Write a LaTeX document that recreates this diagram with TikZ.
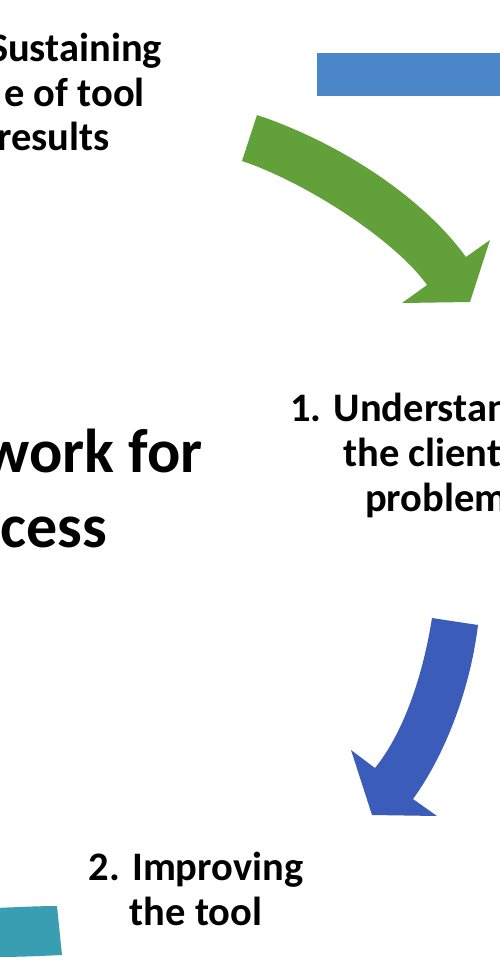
\documentclass[tikz,border=0pt]{standalone}
\usepackage{fontspec}
\setmainfont{Carlito}
\definecolor{greenA}{RGB}{98,161,58}
\definecolor{blueR}{RGB}{74,134,200}
\definecolor{blueA}{RGB}{59,92,184}
\definecolor{tealA}{RGB}{58,158,179}
\begin{document}
\begin{tikzpicture}[x=1pt,y=-1pt,
  lbl/.style={font=\bfseries\fontsize{40.5}{45}\selectfont, inner sep=0pt},
  big/.style={font=\bfseries\fontsize{62}{75}\selectfont, inner sep=0pt}]
\useasboundingbox (0,0) rectangle (500,977);
\clip (0,0) rectangle (500,977);
% shapes
\fill[blueR] (317,53) rectangle (505,96);
\fill[greenA] (257,115) .. controls (335,141) and (420,194) .. (466,257)
  -- (490,240) -- (470,302) -- (402,303) -- (427,285)
  .. controls (395,240) and (305,182) .. (242,161) -- cycle;
\fill[blueA] (432,618) .. controls (423,675) and (404,732) .. (375,768)
  -- (351,750) -- (372,815) -- (437,816) -- (413,799)
  .. controls (445,755) and (470,690) .. (478,625) -- cycle;
\fill[tealA] (-5,908) .. controls (20,907) and (40,906) .. (57,906)
  -- (62,955) .. controls (40,956) and (20,957) .. (-5,957) -- cycle;
% texts
\node[lbl, anchor=base east] (s1) at (162,61) {Sustaining};
\node[lbl, anchor=base east] (s2) at (145,106) {e of tool};
\node[lbl, anchor=base east] (s3) at (110,150) {results};
\node[lbl, anchor=base west] (u1) at (290,421) {1. Understanding};
\node[lbl, anchor=base west] (u2) at (343,466) {the client's};
\node[lbl, anchor=base west] (u3) at (365,511) {problem};
\node[big, anchor=base east] (w1) at (203,472) {work for};
\node[big, anchor=base east] (w2) at (107,547) {cess};
\node[lbl, anchor=base] (i1) at (196,880) {2. Improving};
\node[lbl, anchor=base] (i2) at (196,925) {the tool};
\end{tikzpicture}
\end{document}
